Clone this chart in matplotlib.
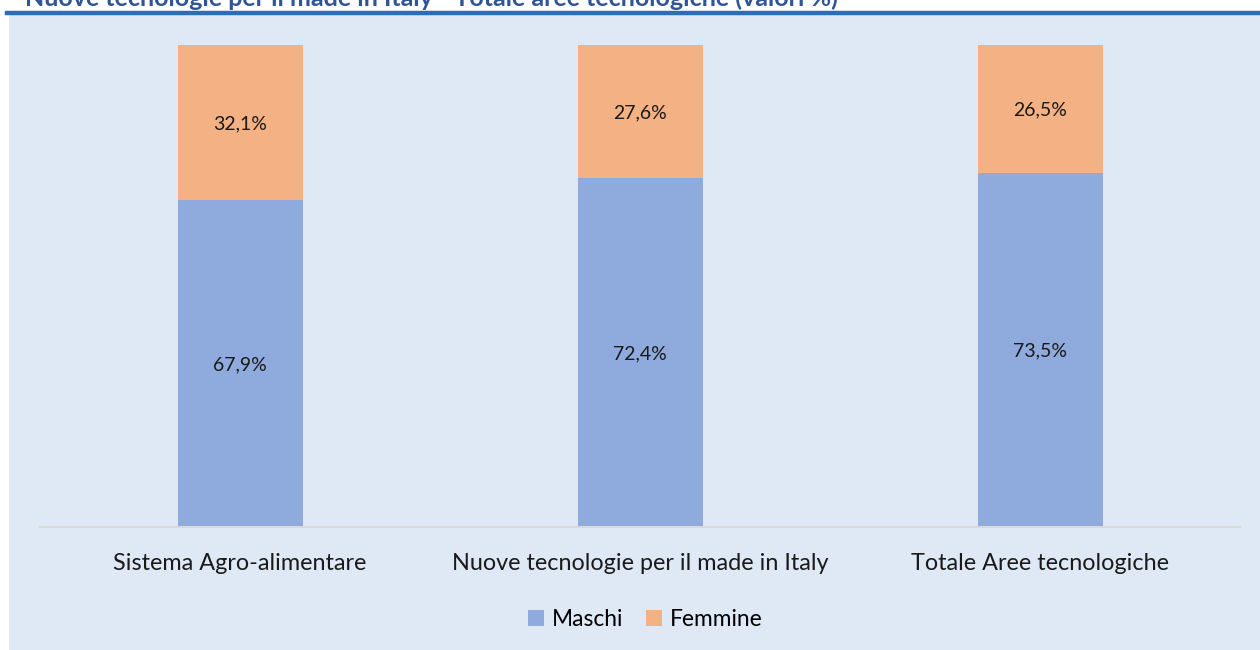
import matplotlib
matplotlib.use("Agg")
from matplotlib import pyplot as plt
from matplotlib.patches import Rectangle
from matplotlib.lines import Line2D

categories = ["Sistema Agro-alimentare", "Nuove tecnologie per il made in Italy", "Totale Aree tecnologiche"]
maschi = [67.9, 72.4, 73.5]
femmine = [32.1, 27.6, 26.5]
maschi_labels = ["67,9%", "72,4%", "73,5%"]
femmine_labels = ["32,1%", "27,6%", "26,5%"]
title = "Nuove tecnologie per il made in Italy - Totale aree tecnologiche (valori %)"

plt.rcParams['font.family'] = ['Lato', 'DejaVu Sans']

W, H = 1260, 650
fig = plt.figure(figsize=(12.6, 6.5), dpi=100)
fig.patch.set_facecolor("white")

# panel background and blue rule
fig.patches.append(Rectangle((9 / W, 0), 1 - 9 / W, 1 - 15 / H, transform=fig.transFigure,
                             facecolor="#DEE9F5", edgecolor="none", zorder=-5))
fig.lines.append(Line2D([7 / W, 1], [1 - 13 / H, 1 - 13 / H], transform=fig.transFigure,
                        color="#2E6DB4", linewidth=3.2, zorder=1))
fig.text(25 / W, 1 + 2 / H, title, ha="left", va="center", fontsize=18, fontweight="bold",
         color="#2F5597")

ax = fig.add_axes([40 / W, 1 - 527 / H, 1200 / W, (527 - 45) / H])
ax.set_facecolor("none")
x = list(range(len(categories)))
width = 0.3125
b1 = ax.bar(x, maschi, width, color="#8FAADC", label="Maschi", zorder=2)
b2 = ax.bar(x, femmine, width, bottom=maschi, color="#F4B183", label="Femmine", zorder=2)

for i in x:
    ax.text(i, maschi[i] / 2, maschi_labels[i], ha="center", va="center_baseline", fontsize=14,
            color="#1a1a1a")
    ax.text(i, maschi[i] + femmine[i] / 2, femmine_labels[i], ha="center", va="center_baseline",
            fontsize=14, color="#1a1a1a")

ax.set_xlim(-0.5, 2.5)
ax.set_ylim(0, 100)
ax.set_yticks([])
ax.set_xticks(x)
ax.set_xticklabels(categories, fontsize=16.8, color="#1a1a1a")
ax.tick_params(axis="x", length=0, pad=19)
for s in ["top", "right", "left"]:
    ax.spines[s].set_visible(False)
ax.spines["bottom"].set_color("#D9D9D9")
ax.spines["bottom"].set_linewidth(1.5)

fig.legend(handles=[b1, b2], loc="center", bbox_to_anchor=(645 / W, 1 - 619 / H), ncol=2,
           frameon=False, fontsize=16.4, handlelength=0.7, handleheight=0.7, handletextpad=0.35,
           columnspacing=1.0)

fig.savefig("out.png", dpi=100)
